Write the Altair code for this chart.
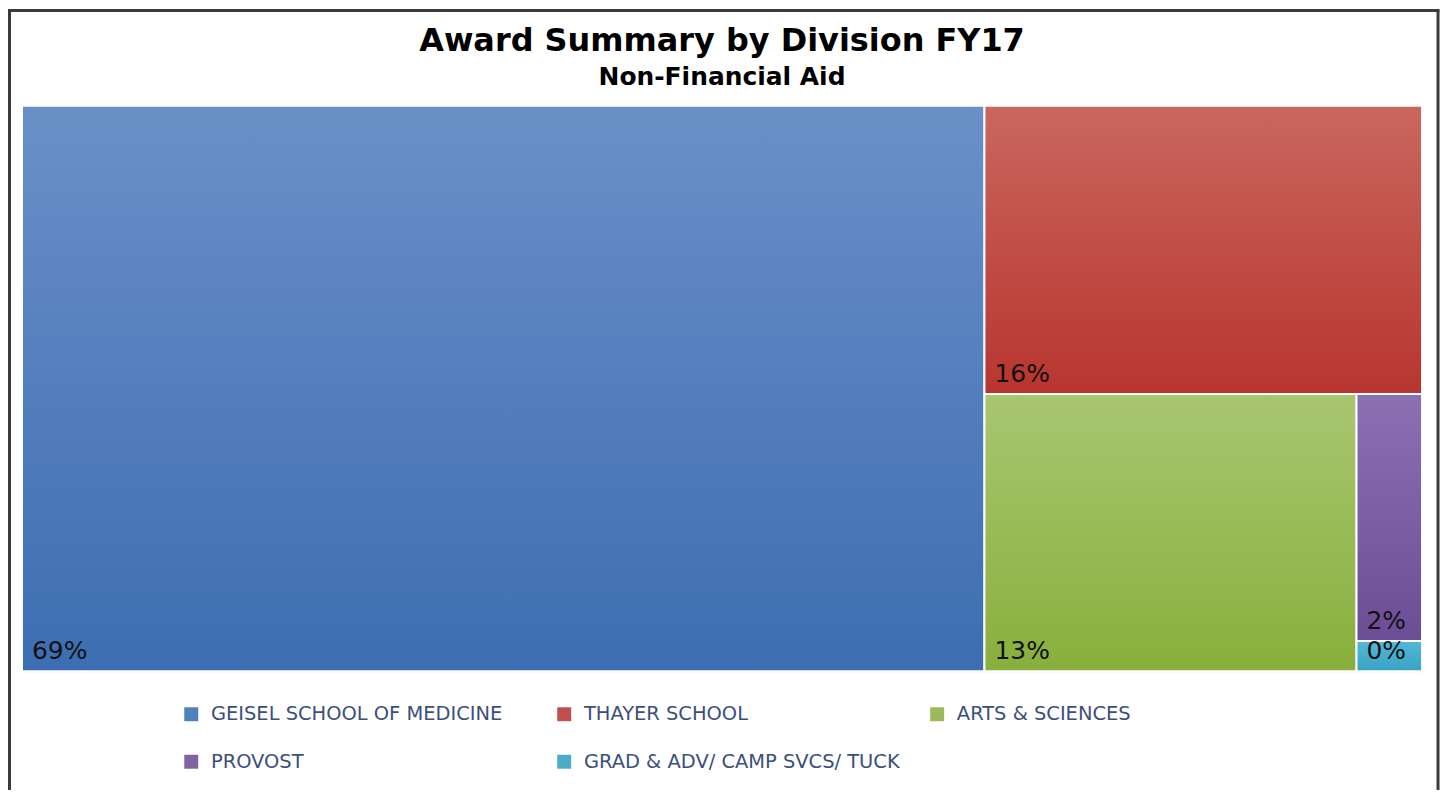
import altair as alt
import pandas as pd

# ---- data ----
names = [
    "GEISEL SCHOOL OF MEDICINE",
    "THAYER SCHOOL",
    "ARTS & SCIENCES",
    "PROVOST",
    "GRAD & ADV/ CAMP SVCS/ TUCK",
]
values = [68.6, 15.9, 13.0, 2.04, 0.25]  # share of awards, %
title_text = "Award Summary by Division FY17"
subtitle_text = "Non-Financial Aid"

# ---- styles ----
legend_colors = ["#4F81BD", "#C0504D", "#9BBB59", "#8064A2", "#4BACC6"]
grad_top = ["#6A90C7", "#C9675F", "#A9C670", "#8B70B2", "#54B8D6"]
grad_bottom = ["#3D6DB2", "#B8352F", "#88AF3C", "#6B4D95", "#38A3C4"]

PLOT_W, PLOT_H = 1404, 567
ASPECT = PLOT_W / PLOT_H


def slice_layout(vals, w, h):
    """Treemap: each item takes a slice along the longer side of what is left."""
    rects = []
    x, y = 0.0, 0.0
    remaining = float(sum(vals))
    for v in vals:
        if w >= h:
            cw = w * v / remaining
            rects.append((x, x + cw, y, y + h))
            x += cw
            w -= cw
        else:
            ch = h * v / remaining
            rects.append((x, x + w, y, y + ch))
            y += ch
            h -= ch
        remaining -= v
    return rects


total = sum(values)
rects = slice_layout(values, ASPECT, 1.0)
df = pd.DataFrame({
    "name": names,
    "value": values,
    "x0": [r[0] for r in rects],
    "x1": [r[1] for r in rects],
    "y0": [r[2] for r in rects],
    "y1": [r[3] for r in rects],
    "label": [f"{round(v / total * 100):.0f}%" for v in values],
})

xs = alt.Scale(domain=[0, ASPECT], nice=False, zero=False)
ys = alt.Scale(domain=[0, 1], nice=False, zero=False, reverse=True)

enc = dict(
    x=alt.X("x0:Q", scale=xs, axis=None),
    x2="x1:Q",
    y=alt.Y("y0:Q", scale=ys, axis=None),
    y2="y1:Q",
)

base = alt.Chart(df).mark_rect(stroke="white", strokeWidth=2).encode(
    color=alt.Color(
        "name:N",
        scale=alt.Scale(domain=names, range=legend_colors),
        legend=alt.Legend(
            title=None,
            orient="none",
            legendX=160,
            legendY=600,
            direction="horizontal",
            columns=3,
            gridAlign="all",
            columnPadding=27,
            rowPadding=27,
            symbolType="square",
            symbolSize=196,
            symbolStrokeWidth=0,
            symbolOpacity=1,
            labelFont="DejaVu Sans",
            labelFontSize=19.5,
            labelColor="#3B4F7D",
            labelOffset=10,
            labelLimit=0,
            padding=0,
        ),
    ),
    **enc,
)

layers = [base]
for n, top, bot in zip(names, grad_top, grad_bottom):
    layers.append(
        alt.Chart(df)
        .transform_filter(alt.datum.name == n)
        .mark_rect(
            stroke="white",
            strokeWidth=2,
            fill=alt.Gradient(
                gradient="linear",
                stops=[
                    alt.GradientStop(color=top, offset=0),
                    alt.GradientStop(color=bot, offset=1),
                ],
                x1=0, x2=0, y1=0, y2=1,
            ),
        )
        .encode(**enc)
    )

labels = alt.Chart(df).mark_text(
    align="left", baseline="alphabetic", dx=10, dy=-12,
    font="DejaVu Sans", fontSize=25, color="#111111",
).encode(
    x=alt.X("x0:Q", scale=xs, axis=None),
    y=alt.Y("y1:Q", scale=ys, axis=None),
    text="label:N",
)
layers.append(labels)

# title and subtitle (drawn as text so the frame does not push them away)
one = alt.Data(values=[{"k": 1}])
title = alt.Chart(one).mark_text(
    align="center", baseline="alphabetic", font="DejaVu Sans",
    fontSize=32, fontWeight="bold", color="black",
).encode(x=alt.value(PLOT_W / 2), y=alt.value(-55), text=alt.value(title_text))
subtitle = alt.Chart(one).mark_text(
    align="center", baseline="alphabetic", font="DejaVu Sans",
    fontSize=25, fontWeight="bold", color="black",
).encode(x=alt.value(PLOT_W / 2), y=alt.value(-21), text=alt.value(subtitle_text))
layers += [title, subtitle]

# decorative frame around the picture
border_color = "#3a3a3a"
left_edge = alt.Chart(one).mark_rule(color=border_color, strokeWidth=3).encode(
    x=alt.value(-12.5), y=alt.value(-95.5), y2=alt.value(700)
)
right_edge = alt.Chart(one).mark_rule(color=border_color, strokeWidth=3).encode(
    x=alt.value(1420), y=alt.value(-95.5), y2=alt.value(700)
)
top_edge = alt.Chart(one).mark_rule(color=border_color, strokeWidth=3).encode(
    x=alt.value(-14), x2=alt.value(1421.5), y=alt.value(-95.5)
)
layers += [left_edge, right_edge, top_edge]

chart = (
    alt.layer(*layers)
    .properties(
        width=PLOT_W,
        height=PLOT_H,
        padding={"left": 14, "top": 97, "right": 22, "bottom": 118},
        autosize=alt.AutoSizeParams(type="none"),
    )
    .configure_view(stroke=None)
    .configure(background="white")
)

chart.save("out.html", embed_options={"renderer": "svg", "actions": False})
